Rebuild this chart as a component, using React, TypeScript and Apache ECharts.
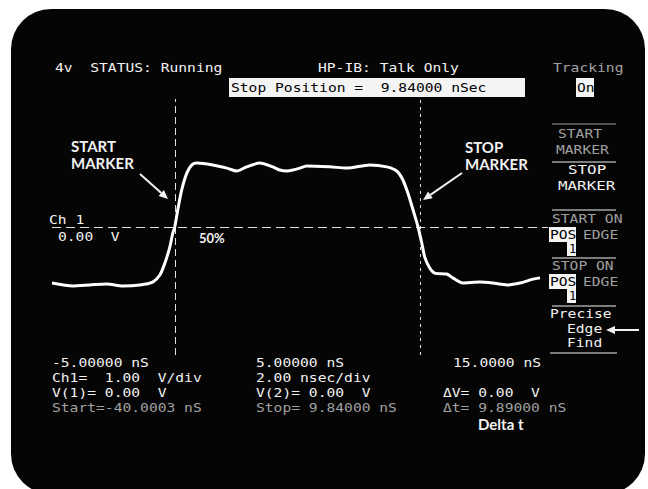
import React, { useEffect, useRef } from "react";
import * as echarts from "echarts";

// Waveform (time in ns, voltage in V)
const timeNs = [-5.0, -4.16, -3.48, -2.79, -2.15, -1.46, -0.94, -0.65, -0.45, -0.25, -0.13, -0.05, 0.07, 0.23, 0.44, 0.64, 0.84, 1.48, 2.05, 2.45, 2.85, 3.38, 3.9, 4.18, 4.47, 4.71, 4.99, 5.27, 6.2, 6.89, 7.81, 8.5, 8.9, 9.15, 9.35, 9.56, 9.76, 9.91, 10.03, 10.23, 10.43, 10.92, 11.16, 11.56, 12.25, 12.77, 13.34, 13.87, 14.4, 14.68];
const volts = [-1.75, -1.84, -1.81, -1.78, -1.84, -1.81, -1.72, -1.5, -1.13, -0.63, -0.19, 0, 0.53, 1.16, 1.69, 1.94, 2.0, 1.94, 1.84, 1.75, 1.88, 2.0, 1.88, 1.78, 1.75, 1.78, 1.84, 1.91, 1.88, 1.84, 1.94, 1.88, 1.75, 1.47, 1.06, 0.53, 0, -0.5, -0.94, -1.28, -1.44, -1.47, -1.59, -1.75, -1.72, -1.75, -1.81, -1.75, -1.63, -1.59];

// Marker positions (ns) and reference level (V)
const markerTimes = [-0.05, 9.84];
const referenceLevel = 0;

// Axis range (ns, V)
const timeRange = [-5, 15];
const voltRange = [-4, 4];

// Screen texts
const timeLabels = ["-5.00000 nS", "5.00000 nS", "15.0000 nS"];
const statusRow = ["4v  STATUS: Running", "HP-IB: Talk Only", "Tracking"];
const infoLeft = ["Ch1=  1.00  V/div", "V(1)= 0.00  V", "Start=-40.0003 nS"];
const infoMid = ["2.00 nsec/div", "V(2)= 0.00  V", "Stop= 9.84000 nS"];
const infoRight = ["\u0394V= 0.00  V", "\u0394t= 9.89000 nS"];
const stopPositionText = "Stop Position =  9.84000 nSec";

const BRIGHT = "#f2f2f2";
const DIM = "#a0a0a0";
const SCOPE_FONT = '12px "DejaVu Sans Mono"';

function st(text: string, x: number, y: number, fill = BRIGHT, extra: any = {}) {
  return {
    type: "text",
    x,
    y,
    scaleX: 1.22,
    style: { text, fill, font: SCOPE_FONT, textVerticalAlign: "middle", ...extra },
  };
}

function bold(text: string, x: number, y: number, size = 15) {
  return {
    type: "text",
    x,
    y,
    style: { text, fill: BRIGHT, font: `bold ${size}px Lato`, textVerticalAlign: "middle" },
  };
}

function arrow(x1: number, y1: number, x2: number, y2: number, w = 2, head = 8) {
  const a = Math.atan2(y2 - y1, x2 - x1);
  const bx = x2 - head * Math.cos(a);
  const by = y2 - head * Math.sin(a);
  const px = Math.sin(a) * head * 0.45;
  const py = -Math.cos(a) * head * 0.45;
  return [
    { type: "line", shape: { x1, y1, x2: bx, y2: by }, style: { stroke: BRIGHT, lineWidth: w } },
    {
      type: "polygon",
      shape: { points: [[x2, y2], [bx + px, by + py], [bx - px, by - py]] },
      style: { fill: BRIGHT },
    },
  ];
}

function hline(x1: number, x2: number, y: number, color = BRIGHT) {
  return { type: "line", shape: { x1, y1: y, x2, y2: y }, style: { stroke: color, lineWidth: 1 } };
}

function box(x: number, y: number, w: number, h: number) {
  return { type: "rect", shape: { x, y, width: w, height: h }, style: { fill: "#f4f4f4" } };
}

function inv(text: string, x: number, y: number, sx = 1.22) {
  return { type: "text", x, y, scaleX: sx, style: { text, fill: "#000", font: SCOPE_FONT, textVerticalAlign: "middle" } };
}

export default function App() {
  const ref = useRef<HTMLDivElement>(null);
  useEffect(() => {
    if (!ref.current) return;
    const chart = echarts.init(ref.current, null, { renderer: "svg" });

    const background = {
      type: "rect",
      z: -10,
      shape: { x: 11, y: 9, width: 634, height: 485, r: 40 },
      style: { fill: "#050505" },
    };

    const softkeys: any[] = [
      st(statusRow[2], 553, 68, DIM),
      box(576, 78, 18, 19),
      inv("On", 577, 88),
      hline(552, 616, 124, DIM),
      st("START", 558, 134, DIM),
      st("MARKER", 556, 150, DIM),
      hline(552, 616, 162),
      st("STOP", 568, 170, BRIGHT, { font: '13px "DejaVu Sans Mono"' }),
      st("MARKER", 558, 186, BRIGHT, { font: '13px "DejaVu Sans Mono"' }),
      hline(552, 616, 210),
      st("START ON", 552, 219, DIM),
      box(549, 227, 27, 15),
      box(567, 242, 9, 14),
      inv("POS", 550, 235),
      st("EDGE", 583, 235, DIM),
      inv("1", 569, 249, 1),
      hline(552, 616, 258),
      st("STOP ON", 552, 266, DIM),
      box(549, 274, 27, 15),
      box(567, 289, 9, 14),
      inv("POS", 550, 282),
      st("EDGE", 583, 282, DIM),
      inv("1", 569, 296, 1),
      hline(552, 616, 306),
      st("Precise", 550, 314),
      st("Edge", 567, 329),
      st("Find", 567, 343),
      hline(550, 617, 353),
      ...arrow(639, 330, 606, 330, 2, 9),
    ];

    const texts: any[] = [
      st(statusRow[0], 55, 68),
      st(statusRow[1], 318, 68),
      box(229, 78, 296, 19),
      inv(stopPositionText, 231, 88),
      bold("START", 71, 146),
      bold("MARKER", 71, 163),
      bold("STOP", 465, 147),
      bold("MARKER", 465, 164),
      ...arrow(140, 174, 168, 199, 2, 9),
      ...arrow(462, 173, 423, 200, 2, 9),
      st("Ch 1", 49, 220),
      st("0.00  V", 58, 237),
      bold("50%", 199, 238, 13),
      st(timeLabels[0], 52, 363),
      st(timeLabels[1], 256, 363),
      st(timeLabels[2], 453, 363),
      st(infoLeft[0], 52, 378),
      st(infoLeft[1], 52, 393),
      st(infoLeft[2], 52, 408, DIM),
      st(infoMid[0], 256, 378),
      st(infoMid[1], 256, 393),
      st(infoMid[2], 256, 408, DIM),
      st(infoRight[0], 443, 393),
      st(infoRight[1], 443, 408, DIM),
      bold("Delta t", 478, 424, 15),
    ];

    chart.setOption({
      animation: false,
      backgroundColor: "#ffffff",
      grid: { left: 52, right: 100, top: 99, bottom: 134 },
      xAxis: {
        type: "value",
        min: timeRange[0],
        max: timeRange[1],
        show: false,
      },
      yAxis: {
        type: "value",
        min: voltRange[0],
        max: voltRange[1],
        show: false,
      },
      graphic: [background, ...softkeys, ...texts],
      series: [
        {
          type: "line",
          data: timeNs.map((t, i) => [t, volts[i]]),
          showSymbol: false,
          smooth: 0.25,
          lineStyle: { color: "#ffffff", width: 3 },
          z: 5,
          markLine: {
            silent: true,
            symbol: "none",
            label: { show: false },
            lineStyle: { color: "#e0e0e0", width: 1, type: [7, 4] },
            data: [
              { xAxis: markerTimes[0] },
              { xAxis: markerTimes[1], lineStyle: { type: [3, 4] } },
              { yAxis: referenceLevel, lineStyle: { type: [9, 5] } },
            ],
          },
        },
      ],
    });
    return () => chart.dispose();
  }, []);
  return <div ref={ref} style={{ position: "absolute", left: 0, top: 0, width: 648, height: 489 }} />;
}
